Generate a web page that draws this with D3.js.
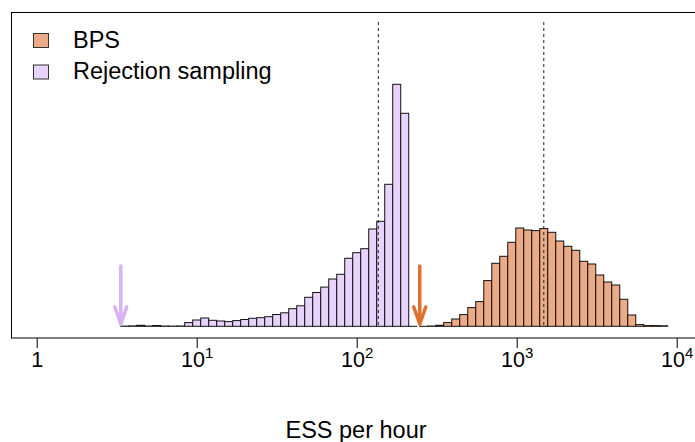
<!DOCTYPE html>
<html>
<head>
<meta charset="utf-8">
<script src="https://cdn.jsdelivr.net/npm/d3@7"></script>
<style>
  html, body { margin: 0; padding: 0; background: #fff; }
  svg { display: block; font-family: "Liberation Sans", Arial, Helvetica, sans-serif; }
</style>
</head>
<body>
<svg id="chart" width="695" height="442"></svg>
<script>
// ---- data (log10 bin breaks and bar heights) ----
const rsBreaks = [0.522,0.572,0.622,0.672,0.722,0.772,0.822,0.872,0.922,0.972,1.022,1.072,1.122,1.172,1.222,1.272,1.322,1.372,1.422,1.472,1.522,1.572,1.622,1.672,1.722,1.772,1.822,1.872,1.922,1.972,2.022,2.072,2.122,2.172,2.222,2.272,2.322,2.372];
const rsCounts = [0.2,0.4,1.0,0.3,0.8,0.3,0.2,0.3,3.7,6.3,8.3,6,5.3,4.7,5.7,6.8,8,8.6,9.6,11.8,13.5,17.6,20.5,29,33.8,39.2,47.3,52,68,73.6,77.6,97.3,105,142,242,213,0];
const bpsBreaks = [2.391,2.441,2.491,2.541,2.591,2.641,2.691,2.741,2.791,2.841,2.891,2.941,2.991,3.041,3.091,3.141,3.191,3.241,3.291,3.341,3.391,3.441,3.491,3.541,3.591,3.641,3.691,3.741,3.791,3.841,3.891,3.941];
const bpsCounts = [0,0.3,1,3.7,7.3,11.7,18.7,24.7,45.7,63,70,84,98.3,96.3,95.7,97.7,94,85.3,80,76,65,62.3,51.3,44.3,41.3,27,11.3,1.7,0.7,0.7,0.5];
const medians = [135.5, 1466];          // dotted reference lines (RS, BPS)
const minima = [3.33, 246];             // arrows (RS, BPS)
const tickExps = [0, 1, 2, 3, 4];
const seriesNames = ["BPS", "Rejection sampling"];
const fillColors = ["#ECAA86", "#E7D3FB"];
const arrowColors = ["#D8B2F6", "#E0702F"];

// ---- layout ----
const svg = d3.select("#chart");
const x = d3.scaleLog().domain([1, 1e4]).range([37.2, 677.2]);
const y = d3.scaleLinear().domain([0, 250]).range([326.3, 76.3]);

// plot box
svg.append("rect").attr("x", 11.5).attr("y", 12.5).attr("width", 720).attr("height", 325.5)
  .attr("fill", "none").attr("stroke", "#000").attr("stroke-width", 1);

function bars(breaks, counts, fill) {
  const data = counts.map((c, i) => ({ x0: Math.pow(10, breaks[i]), x1: Math.pow(10, breaks[i + 1]), c }));
  svg.append("g").selectAll("rect").data(data).join("rect")
    .attr("x", d => x(d.x0))
    .attr("y", d => y(d.c))
    .attr("width", d => x(d.x1) - x(d.x0))
    .attr("height", d => Math.max(0.01, y(0) - y(d.c)))
    .attr("fill", fill)
    .attr("stroke", "#111")
    .attr("stroke-width", 1);
}
bars(rsBreaks, rsCounts, fillColors[1]);
bars(bpsBreaks, bpsCounts, fillColors[0]);

// dotted median lines
svg.append("g").selectAll("line").data(medians).join("line")
  .attr("x1", d => x(d)).attr("x2", d => x(d))
  .attr("y1", 22).attr("y2", y(0))
  .attr("stroke", "#222").attr("stroke-width", 1).attr("stroke-dasharray", "3,3");

// arrows marking minima
minima.forEach((m, i) => {
  const g = svg.append("g").attr("stroke", arrowColors[i]).attr("fill", "none")
    .attr("stroke-width", 3.5).attr("stroke-linecap", "round").attr("stroke-linejoin", "round");
  const xm = x(m);
  g.append("line").attr("x1", xm).attr("x2", xm).attr("y1", 266).attr("y2", 324);
  g.append("path").attr("d", `M${xm - 6},${307} L${xm},${324} L${xm + 6},${307}`);
});

// x axis (ticks only; the box bottom is the axis line)
const axisG = svg.append("g");
axisG.selectAll("line").data(tickExps).join("line")
  .attr("x1", d => x(Math.pow(10, d))).attr("x2", d => x(Math.pow(10, d)))
  .attr("y1", 338).attr("y2", 348).attr("stroke", "#000");
tickExps.forEach(e => {
  const t = axisG.append("text").attr("x", x(Math.pow(10, e))).attr("y", 367)
    .attr("text-anchor", "middle").attr("font-size", 21.5).attr("fill", "#000");
  if (e === 0) { t.text("1"); }
  else {
    t.append("tspan").text("10");
    t.append("tspan").attr("dy", -9).attr("font-size", 15).text(e);
  }
});
svg.append("text").attr("x", 356).attr("y", 437.5).attr("text-anchor", "middle")
  .attr("font-size", 23.5).attr("fill", "#000").text("ESS per hour");

// legend
seriesNames.forEach((name, i) => {
  svg.append("rect").attr("x", 33.5).attr("y", 33.5 + i * 31.5).attr("width", 15).attr("height", 14)
    .attr("fill", fillColors[i]).attr("stroke", "#333");
  svg.append("text").attr("x", 73).attr("y", 47.5 + i * 31.5).attr("font-size", 23.5)
    .attr("fill", "#000").text(name);
});
</script>
</body>
</html>
